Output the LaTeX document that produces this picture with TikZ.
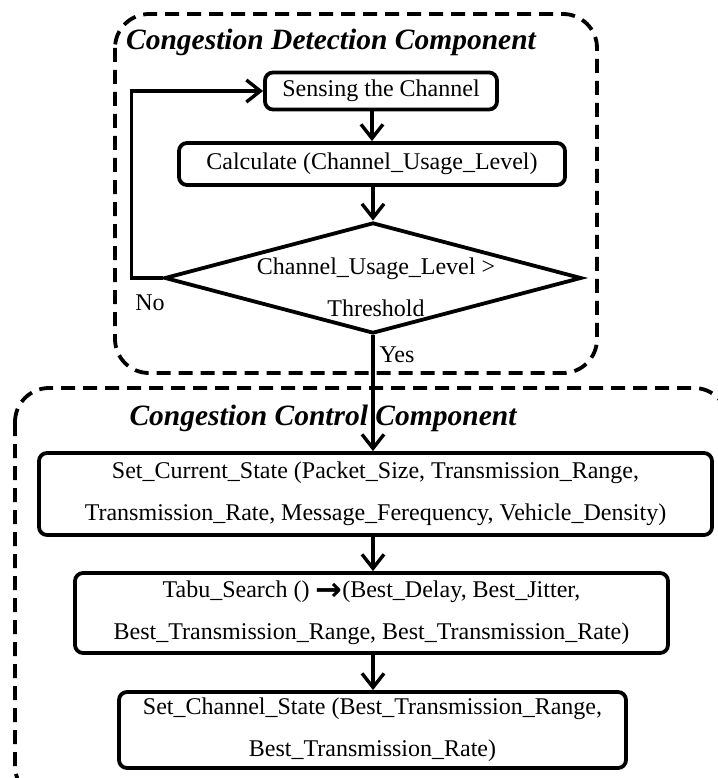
\documentclass[tikz,border=0pt]{standalone}
\usepackage{fontspec}
\setmainfont{Liberation Serif}
\newfontfamily\arrowfont{DejaVu Sans}
\usetikzlibrary{arrows.meta,shapes.geometric}

\tikzset{
  procbox/.style={draw, line width=3.8pt, rounded corners=8pt, align=center, inner sep=0pt,
    font=\fontsize{24}{42}\selectfont},
  decbox/.style={draw, diamond, line width=3.8pt, inner sep=0pt},
  flowarrow/.style={line width=3.4pt, -{Straight Barb[length=14pt,width=22pt,line width=3.4pt]}},
  zonebox/.style={line width=3.8pt, dash pattern=on 14pt off 8pt, rounded corners=34pt},
  zonetitle/.style={font=\fontsize{29.5}{30}\selectfont\bfseries\itshape},
  plaintext/.style={font=\fontsize{24}{42}\selectfont}
}

\begin{document}
\begin{tikzpicture}[x=1pt,y=-1pt]
\useasboundingbox (0,0) rectangle (717,778);
\draw[zonebox] (115,14) rectangle (597,373);
\draw[zonebox] (15,388) rectangle (728,800);
\node[zonetitle] (dettitle) at (331,42) {Congestion Detection Component};
\node[zonetitle] (ctltitle) at (323,418) {Congestion Control Component};

\node[procbox, minimum width=232pt, minimum height=37pt] (sense) at (381,91) {Sensing the Channel};
\node[procbox, minimum width=386pt, minimum height=42pt] (calc) at (372,164) {Calculate (Channel\_Usage\_Level)};
\node[decbox, minimum width=417pt, minimum height=111pt,
  label={[plaintext, align=center, xshift=3pt, yshift=-9pt]center:Channel\_Usage\_Level >\\Threshold}] (dec) at (373,278) {};
\node[procbox, minimum width=673pt, minimum height=82pt] (current) at (375.5,494)
  {Set\_Current\_State (Packet\_Size, Transmission\_Range,\\Transmission\_Rate, Message\_Ferequency, Vehicle\_Density)};
\node[procbox, minimum width=593pt, minimum height=80pt] (tabu) at (371.5,613)
  {Tabu\_Search () \raisebox{-3pt}{\arrowfont\bfseries\fontsize{32}{24}\selectfont →}(Best\_Delay, Best\_Jitter,\\Best\_Transmission\_Range, Best\_Transmission\_Rate)};
\node[procbox, minimum width=507pt, minimum height=76pt] (chan) at (372.5,730)
  {Set\_Channel\_State (Best\_Transmission\_Range,\\Best\_Transmission\_Rate)};

\node[plaintext] (nolbl) at (150,303) {No};
\node[plaintext] (yeslbl) at (397,355) {Yes};

\draw[flowarrow] (sense.south -| calc.north) -- (calc.north);
\draw[flowarrow] (calc.south -| dec.north) -- (dec.north);
\draw[flowarrow] (dec.west) -- ++(-31,0) |- (sense.west);
\draw[flowarrow] (dec.south) -- (current.north -| dec.south);
\draw[flowarrow] (current.south -| dec.south) -- (tabu.north -| dec.south);
\draw[flowarrow] (tabu.south -| dec.south) -- (chan.north -| dec.south);
\end{tikzpicture}
\end{document}
